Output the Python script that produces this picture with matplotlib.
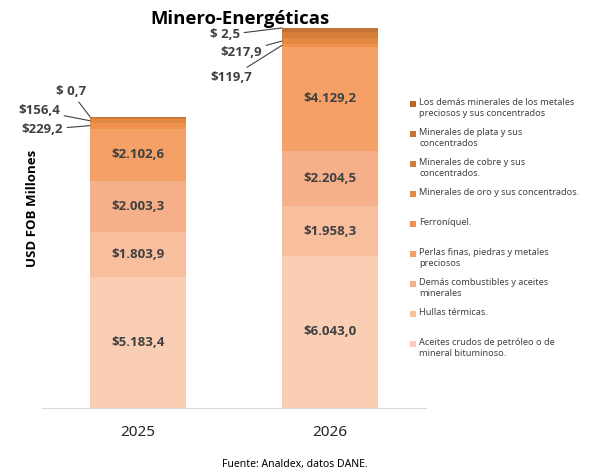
import matplotlib
matplotlib.use("Agg")
import matplotlib.pyplot as plt
from matplotlib.patches import Rectangle

plt.rcParams['font.family'] = ['Noto Sans', 'DejaVu Sans']
BOLD = ['Open Sans', 'DejaVu Sans']

# data (USD FOB millones), bottom of the stack first
years = ['2025', '2026']
categories = [
    'Aceites crudos de petróleo o de\nmineral bituminoso.',
    'Hullas térmicas.',
    'Demás combustibles y aceites\nminerales',
    'Perlas finas, piedras y metales\npreciosos',
    'Ferroníquel.',
    'Minerales de oro y sus concentrados.',
    'Minerales de cobre y sus\nconcentrados.',
    'Minerales de plata y sus\nconcentrados',
    'Los demás minerales de los metales\npreciosos y sus concentrados',
]
aceites = [5183.4, 6043.0]
hullas = [1803.9, 1958.3]
combustibles = [2003.3, 2204.5]
perlas = [2102.6, 4129.2]
ferroniquel = [229.2, 119.7]
oro = [156.4, 217.9]
cobre = [50.0, 250.0]       # no label in the source, estimated
plata = [30.0, 160.0]       # no label in the source, estimated
demas_metales = [0.7, 2.5]
series = [aceites, hullas, combustibles, perlas, ferroniquel, oro, cobre, plata, demas_metales]
labeled_inside = [0, 1, 2, 3]
labeled_outside = [4, 5, 8]

colors = ['#FACDB5', '#F8BF9F', '#F6B089', '#F4A066', '#F0924E',
          '#E38A42', '#D47E3C', '#C47236', '#B3662F']

fig = plt.figure(figsize=(5.92, 4.72), dpi=100)
ax = fig.add_axes([42 / 592, 64 / 472, 384 / 592, 388 / 472])

x = range(len(years))
width = 0.5
bottoms = [0.0, 0.0]
seg_mid = []
seg_top = []
for vals, c in zip(series, colors):
    ax.bar(x, vals, width, bottom=bottoms, color=c, linewidth=0)
    seg_mid.append([b + v / 2 for b, v in zip(bottoms, vals)])
    bottoms = [b + v for b, v in zip(bottoms, vals)]
    seg_top.append(list(bottoms))

lab_color = '#404040'
def fmt(v):
    s = f'{v:,.1f}'.replace(',', 'X').replace('.', ',').replace('X', '.')
    return '$' + s if v >= 100 else '$ ' + s

for i in labeled_inside:
    for j in x:
        ax.text(j, seg_mid[i][j], fmt(series[i][j]), ha='center', va='center',
                fontsize=9.5, fontweight='bold', family=BOLD, color=lab_color)

# leader-line labels: (series, bar) -> offset in pixels from the bar's left edge
offsets = {
    (4, 0): (-27, -4), (5, 0): (-30, 10), (8, 0): (-4, 25),
    (4, 1): (-30, -32), (5, 1): (-20, -11), (8, 1): (-42, -7),
}
for i in labeled_outside:
    for j in x:
        yref = seg_top[i][j] if i == 8 else seg_mid[i][j]
        ax.annotate(fmt(series[i][j]), xy=(j - width / 2, yref),
                    xytext=offsets[(i, j)], textcoords='offset pixels',
                    ha='right', va='center', fontsize=9.5, fontweight='bold',
                    family=BOLD, color=lab_color,
                    arrowprops=dict(arrowstyle='-', color='#404040', lw=0.8,
                                    shrinkA=1, shrinkB=0))

ax.set_xlim(-0.5, 1.5)
ax.set_ylim(0, 15400)
ax.set_xticks(list(x))
ax.set_xticklabels(years, fontsize=11, color='#262626')
ax.tick_params(axis='x', length=0, pad=12)
ax.set_yticks([])
for s in ['left', 'right', 'top']:
    ax.spines[s].set_visible(False)
ax.spines['bottom'].set_color('#D9D9D9')

fig.text(33 / 592, 1 - 208 / 472, 'USD FOB Millones', rotation=90, ha='center',
         va='center', fontsize=9.5, fontweight='bold', family=BOLD, color='black')
fig.text(240 / 592, 1 - 19 / 472, 'Minero-Energéticas', ha='center', va='center',
         fontsize=13.3, fontweight='bold', family=BOLD, color='black')
fig.text(295 / 592, 1 - 465 / 472, 'Fuente: Analdex, datos DANE.', ha='center',
         va='center', fontsize=7.5, color='black')

# legend, top entry = last series
for k, i in enumerate(reversed(range(len(categories)))):
    ytop = 98 + 30 * k
    fig.add_artist(Rectangle((410 / 592, 1 - (ytop + 9) / 472), 6 / 592, 6 / 472,
                             transform=fig.transFigure, color=colors[i], lw=0))
    fig.text(419 / 592, 1 - ytop / 472, categories[i], ha='left', va='top',
             fontsize=6.6, color='#404040', linespacing=1.25)

fig.savefig('out.png', dpi=100)
